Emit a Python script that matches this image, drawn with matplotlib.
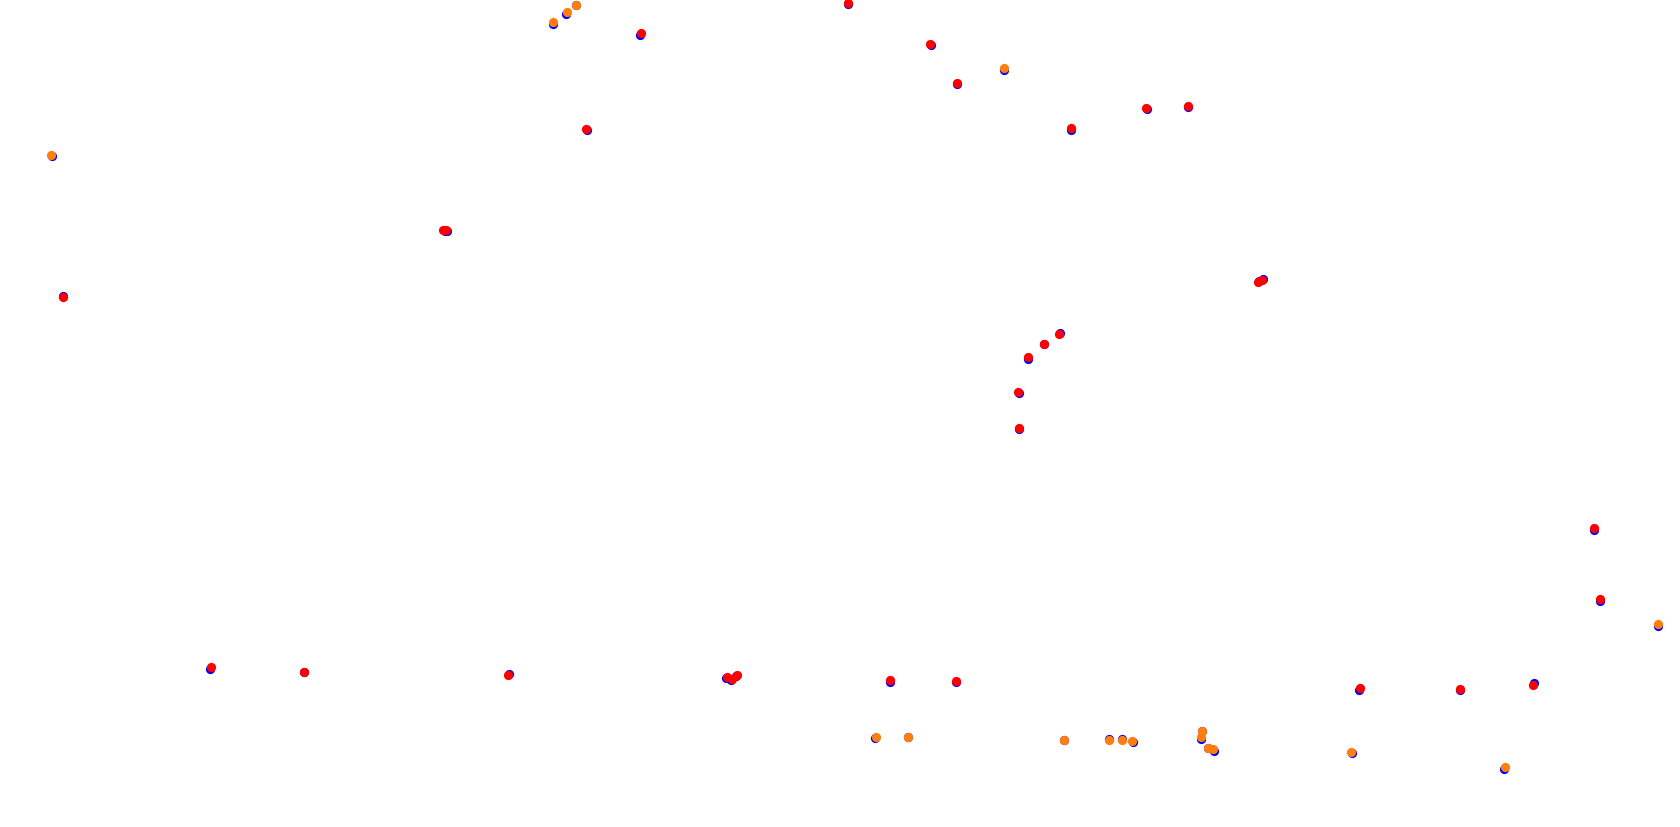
import matplotlib
matplotlib.use("Agg")
import matplotlib.pyplot as plt

# Orange points (x, y in image pixel space)
orange_x = [50.7, 552.7, 566.7, 575.7, 1003.7, 1657.7, 876.0, 907.7, 1063.7, 1109.3,
            1121.7, 1131.7, 1201.7, 1200.7, 1208.0, 1213.3, 1350.7, 1504.7]
orange_y = [154.7, 22.0, 12.0, 5.0, 68.0, 624.0, 736.7, 737.3, 739.7, 739.7,
            739.7, 741.0, 731.0, 737.3, 748.3, 749.0, 751.7, 767.0]
orange_bx = [51.7, 552.7, 565.7, 575.7, 1003.7, 1657.7, 874.7, 907.7, 1063.7, 1109.3,
             1121.7, 1132.7, 1201.7, 1201.4, 1207.5, 1214.3, 1351.7, 1503.7]
orange_by = [155.7, 23.5, 13.5, 5.0, 69.5, 626.0, 737.7, 737.3, 739.7, 738.7,
             738.7, 742.0, 731.0, 738.8, 747.6, 750.5, 753.2, 768.5]

# Red points
red_x = [63.0, 443.3, 445.5, 585.7, 640.7, 848.0, 930.0, 956.7, 1071.0, 1146.0,
         1188.3, 1258.3, 1262.0, 1059.0, 1043.7, 1028.0, 1018.0, 1019.0, 1593.7, 1599.7,
         210.7, 303.7, 508.3, 726.7, 731.7, 736.7, 890.3, 956.0, 1359.7, 1460.3, 1532.7]
red_y = [297.3, 229.7, 230.3, 129.0, 33.3, 2.7, 43.7, 83.0, 128.0, 107.7,
         105.7, 282.3, 280.0, 333.7, 343.7, 357.0, 391.7, 428.0, 528.0, 599.0,
         667.3, 671.7, 674.7, 677.3, 679.3, 674.7, 680.0, 680.7, 688.0, 689.0, 684.7]
red_bx = [63.0, 445.3, 446.5, 586.7, 640.0, 848.0, 931.0, 956.7, 1071.0, 1147.0,
          1188.3, 1259.3, 1263.0, 1060.0, 1043.7, 1028.0, 1019.0, 1019.0, 1593.7, 1599.7,
          209.7, 303.7, 509.3, 726.0, 731.0, 736.0, 890.3, 955.5, 1358.7, 1460.3, 1533.7]
red_by = [296.3, 230.7, 231.3, 130.0, 34.8, 4.2, 45.2, 84.0, 129.5, 108.7,
          107.2, 281.3, 279.0, 332.7, 343.7, 358.5, 392.7, 429.0, 529.5, 600.5,
          669.3, 671.7, 673.7, 678.3, 680.3, 675.7, 681.5, 682.2, 689.5, 690.0, 683.2]

blue_x = orange_bx + red_bx
blue_y = orange_by + red_by

fig = plt.figure(figsize=(16.8, 8.27), dpi=100)
ax = fig.add_axes([0, 0, 1, 1])
ax.set_xlim(0, 1680)
ax.set_ylim(827, 0)
ax.axis("off")

s = 44
ax.scatter(blue_x, blue_y, s=s, c="#0000ff", linewidths=0, zorder=1)
ax.scatter(orange_x, orange_y, s=s, c="#ff7f0e", linewidths=0, zorder=2)
ax.scatter(red_x, red_y, s=s, c="#ff0000", linewidths=0, zorder=3)

fig.savefig("out.png", dpi=100, facecolor="white")
